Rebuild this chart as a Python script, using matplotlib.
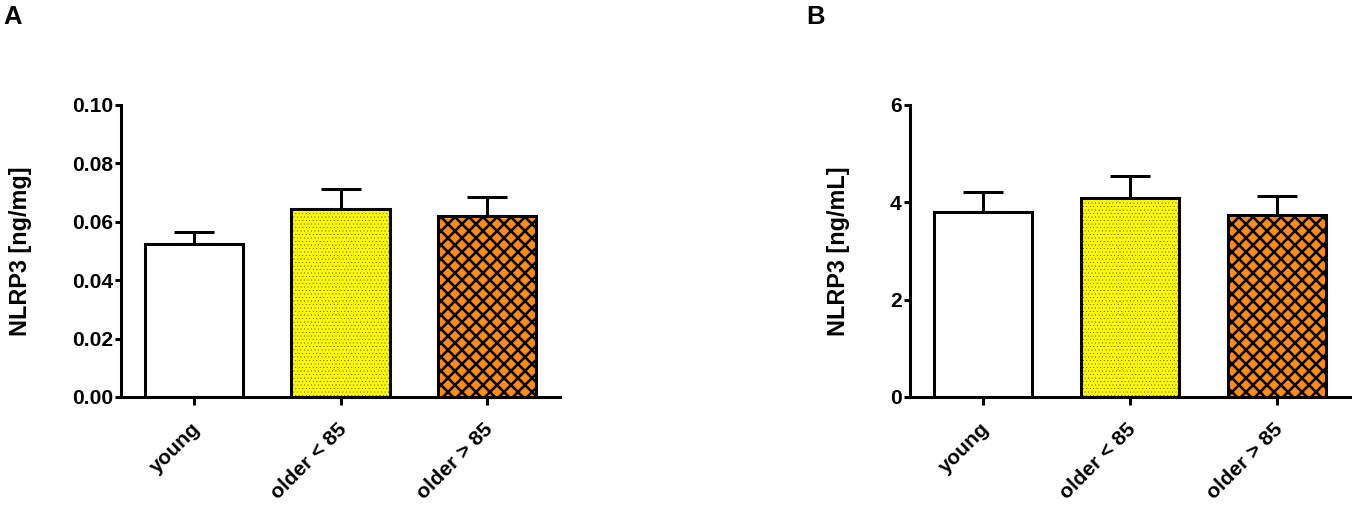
import matplotlib
matplotlib.use("Agg")
import matplotlib.pyplot as plt
from matplotlib.ticker import FormatStrFormatter
from matplotlib.transforms import ScaledTranslation

groups = ["young", "older < 85", "older > 85"]

# panel A: tissue NLRP3 (ng/mg)
mean_a = [0.0524, 0.0643, 0.0621]
sem_a = [0.0042, 0.0070, 0.0065]

# panel B: serum NLRP3 (ng/mL)
mean_b = [3.80, 4.09, 3.74]
sem_b = [0.41, 0.45, 0.40]

fills = ["white", "#FFFA00", "#FF8C1A"]
hatches = ["", "....", "xx"]
hatch_lws = [1.0, 0.15, 2.2]

DPI = 84
plt.rcParams["font.family"] = ["Liberation Sans", "DejaVu Sans"]
plt.rcParams["font.weight"] = "bold"

fig = plt.figure(figsize=(1358 / DPI, 506 / DPI), dpi=DPI)


def draw_panel(ax, means, sems, ylim, yticks, fmt, ylabel, label_x):
    x = list(range(len(groups)))
    for i in x:
        with plt.rc_context({"hatch.linewidth": hatch_lws[i]}):
            bars = ax.bar(x[i], means[i], width=0.67, color=fills[i],
                          edgecolor="black", linewidth=2.6, hatch=hatches[i],
                          zorder=2)
        for b in bars:
            if hasattr(b, "set_hatch_linewidth"):
                b.set_hatch_linewidth(hatch_lws[i])
    ax.errorbar(x, means, yerr=[[0] * len(x), sems], fmt="none",
                ecolor="black", elinewidth=2.6, capsize=17.5, capthick=2.6,
                zorder=1)
    ax.set_xlim(-0.5, 2.5)
    ax.set_ylim(*ylim)
    ax.set_yticks(yticks)
    ax.yaxis.set_major_formatter(FormatStrFormatter(fmt))
    ax.set_xticks(x)
    ax.set_xticklabels(groups, rotation=45, ha="right", va="center",
                       rotation_mode="anchor")
    for sp in ["top", "right"]:
        ax.spines[sp].set_visible(False)
    for sp in ["left", "bottom"]:
        ax.spines[sp].set_linewidth(2.6)
    ax.tick_params(axis="y", length=5, width=2.6, pad=2, labelsize=18)
    ax.tick_params(axis="x", length=7, width=2.6, pad=18, labelsize=18)
    shift = ScaledTranslation(3 / DPI, 0, fig.dpi_scale_trans)
    for lab in ax.get_xticklabels():
        lab.set_transform(lab.get_transform() + shift)
    ax.set_ylabel(ylabel, fontsize=20, fontweight="bold")
    ax.yaxis.set_label_coords(label_x, 0.5)


ax_a = fig.add_axes([121 / 1358, 1 - 397 / 506, 439 / 1358, 292 / 506])
draw_panel(ax_a, mean_a, sem_a, (0, 0.1), [0, 0.02, 0.04, 0.06, 0.08, 0.10],
           "%.2f", "NLRP3 [ng/mg]", -0.203)

ax_b = fig.add_axes([910 / 1358, 1 - 397 / 506, 440 / 1358, 292 / 506])
draw_panel(ax_b, mean_b, sem_b, (0, 6), [0, 2, 4, 6], "%d",
           "NLRP3 [ng/mL]", -0.136)

fig.text(3 / 1358, 1 - 5 / 506, "A", fontsize=22, fontweight="bold",
         ha="left", va="top")
fig.text(806 / 1358, 1 - 5 / 506, "B", fontsize=22, fontweight="bold",
         ha="left", va="top")

fig.savefig("out.png", dpi=DPI)
